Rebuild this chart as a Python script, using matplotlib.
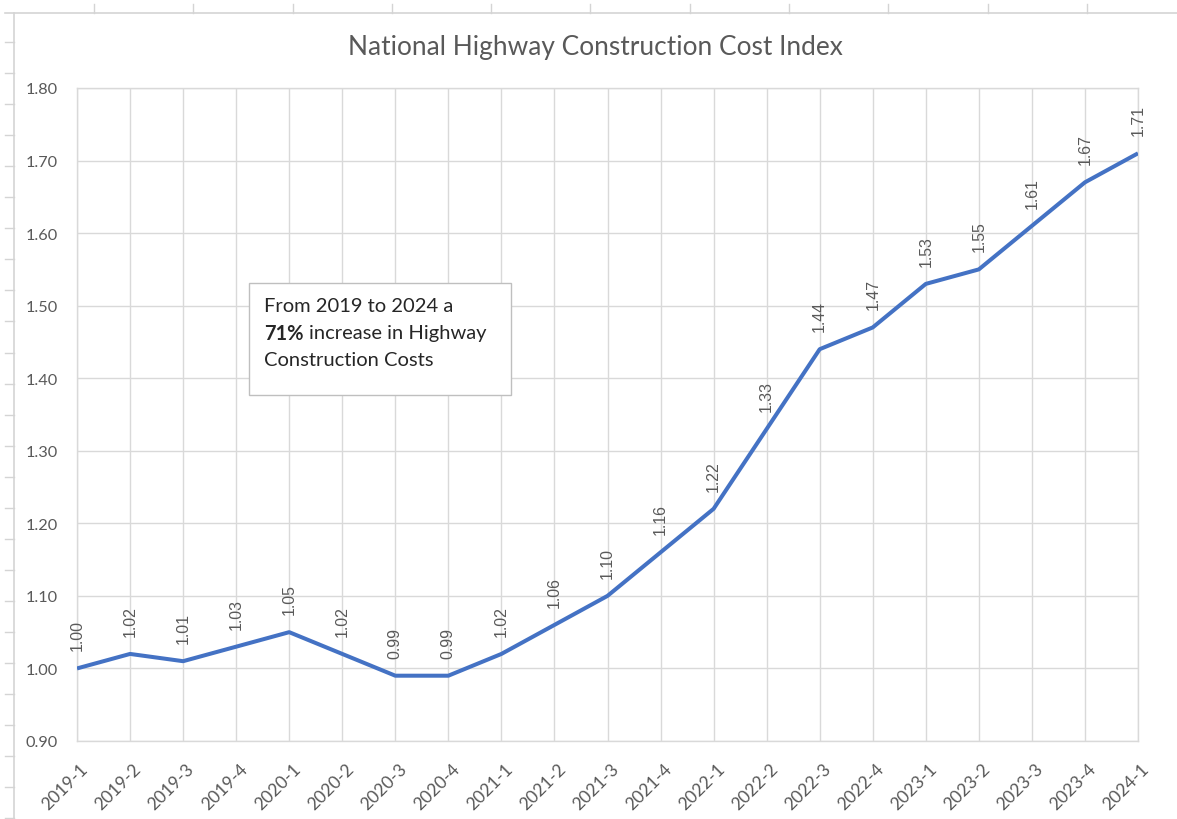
import matplotlib
matplotlib.use("Agg")
import matplotlib.pyplot as plt
import matplotlib.transforms as mtrans
from matplotlib.lines import Line2D
from matplotlib.patches import Rectangle

# ---------------- data ----------------
categories = ["2019-1", "2019-2", "2019-3", "2019-4",
              "2020-1", "2020-2", "2020-3", "2020-4",
              "2021-1", "2021-2", "2021-3", "2021-4",
              "2022-1", "2022-2", "2022-3", "2022-4",
              "2023-1", "2023-2", "2023-3", "2023-4",
              "2024-1"]
values = [1.00, 1.02, 1.01, 1.03,
          1.05, 1.02, 0.99, 0.99,
          1.02, 1.06, 1.10, 1.16,
          1.22, 1.33, 1.44, 1.47,
          1.53, 1.55, 1.61, 1.67,
          1.71]
y_ticks = [0.90, 1.00, 1.10, 1.20, 1.30, 1.40, 1.50, 1.60, 1.70, 1.80]
title = "National Highway Construction Cost Index"
note_line1 = "From 2019 to 2024 a"
note_bold = "71%"
note_rest = "increase in Highway"
note_line3 = "Construction Costs"

# ---------------- style ----------------
W, H = 1177, 820
DPI = 100
FONT = "Lato"
LABEL_FONT = "Liberation Sans"
GRAY_TXT = "#595959"
GRID = "#d9d9d9"
FRAME = "#d4d4d4"
LINE = "#4472C4"

plt.rcParams["font.family"] = [FONT, "DejaVu Sans"]

fig = plt.figure(figsize=(W / DPI, H / DPI), dpi=DPI)
fig.patch.set_facecolor("white")
renderer = fig.canvas.get_renderer()


def fx(x):
    return x / W


def fy(y):
    return 1 - y / H


def fit(s, target_px, **kw):
    t = fig.text(0, 0, s, fontsize=10, **kw)
    w = t.get_window_extent(renderer).width
    t.remove()
    return 10 * target_px / w


# spreadsheet background frame
fig.add_artist(Line2D([fx(5), fx(W)], [fy(13.5), fy(13.5)], color=FRAME, lw=1.2))
fig.add_artist(Line2D([fx(13.5), fx(13.5)], [fy(13.5), fy(H)], color=FRAME, lw=1.2))
xx = 94.0
while xx < W:
    fig.add_artist(Line2D([fx(xx), fx(xx)], [fy(5), fy(13.5)], color=FRAME, lw=1.0))
    xx += 99.3
yy = 43.0
while yy < H:
    fig.add_artist(Line2D([fx(5), fx(13.5)], [fy(yy), fy(yy)], color=FRAME, lw=1.0))
    yy += 31.05

# font sizes fitted to the reference pixel widths
fs_title = fit(title, 493, family=[FONT, "DejaVu Sans"])
fs_tick = fit("1.30", 32, family=[FONT, "DejaVu Sans"])
fs_xtick = fs_tick * 1.08
fs_lab = fit("1.22", 31, family=[LABEL_FONT, "DejaVu Sans"])
fs_note = fit(note_line1, 189, family=[FONT, "DejaVu Sans"])

# ---------------- axes ----------------
L, R, T, B = 77, 1138, 89, 742
ax = fig.add_axes([fx(L), fy(B), (R - L) / W, (B - T) / H])
ax.set_xlim(0, len(categories) - 1)
ax.set_ylim(y_ticks[0], y_ticks[-1])

ax.set_xticks(range(len(categories)))
ax.set_xticklabels([])
ax.set_yticks(y_ticks)
ax.set_yticklabels([f"{v:.2f}" for v in y_ticks], fontsize=fs_tick, color=GRAY_TXT)
ax.tick_params(axis="both", length=0)
ax.tick_params(axis="y", pad=19 * 72 / DPI)
ax.grid(True, color=GRID, lw=1.0)
ax.set_axisbelow(True)
for sp in ax.spines.values():
    sp.set_color(GRID)
    sp.set_linewidth(1.0)

# rotated category labels
off = mtrans.ScaledTranslation(3 / DPI, -19 / DPI, fig.dpi_scale_trans)
for i, c in enumerate(categories):
    ax.text(i, 0, c, transform=ax.get_xaxis_transform() + off,
            rotation=45, rotation_mode="anchor", ha="right", va="top",
            fontsize=fs_xtick, color=GRAY_TXT)

# series line
x = list(range(len(values)))
ax.plot(x, values, color=LINE, lw=2.9, solid_joinstyle="round",
        solid_capstyle="butt", zorder=3)

# data labels
for i, v in enumerate(values):
    ax.annotate(f"{v:.2f}", (i, v), xytext=(0, 18 * 72 / DPI),
                textcoords="offset points", rotation=90,
                ha="center", va="bottom", fontsize=fs_lab,
                family=[LABEL_FONT, "DejaVu Sans"], color=GRAY_TXT,
                annotation_clip=False)

# title
fig.text(fx(595.5), fy(55.5), title, ha="center", va="baseline",
         fontsize=fs_title, color=GRAY_TXT)

# note box
fig.add_artist(Rectangle((fx(249), fy(396)), (511 - 249) / W, (396 - 284) / H,
                         transform=fig.transFigure, facecolor="white",
                         edgecolor="#bfbfbf", lw=1.0, zorder=5))
NOTE_COL = "#262626"
fig.text(fx(264), fy(307), note_line1, ha="left", va="center",
         fontsize=fs_note, color=NOTE_COL, zorder=6)
tb = fig.text(fx(264), fy(334), note_bold, ha="left", va="center",
              fontsize=fs_note, color=NOTE_COL, weight="bold", zorder=6)
fig.text(fx(264), fy(361), note_line3, ha="left", va="center",
         fontsize=fs_note, color=NOTE_COL, zorder=6)

# place regular text after the bold part
fig.canvas.draw()
bb = tb.get_window_extent(renderer)
space_px = fs_note * DPI / 72 * 0.28
fig.text((bb.x1 + space_px) / W, fy(334), note_rest, ha="left", va="center",
         fontsize=fs_note, color=NOTE_COL, zorder=6)

fig.savefig("out.png", dpi=DPI)
